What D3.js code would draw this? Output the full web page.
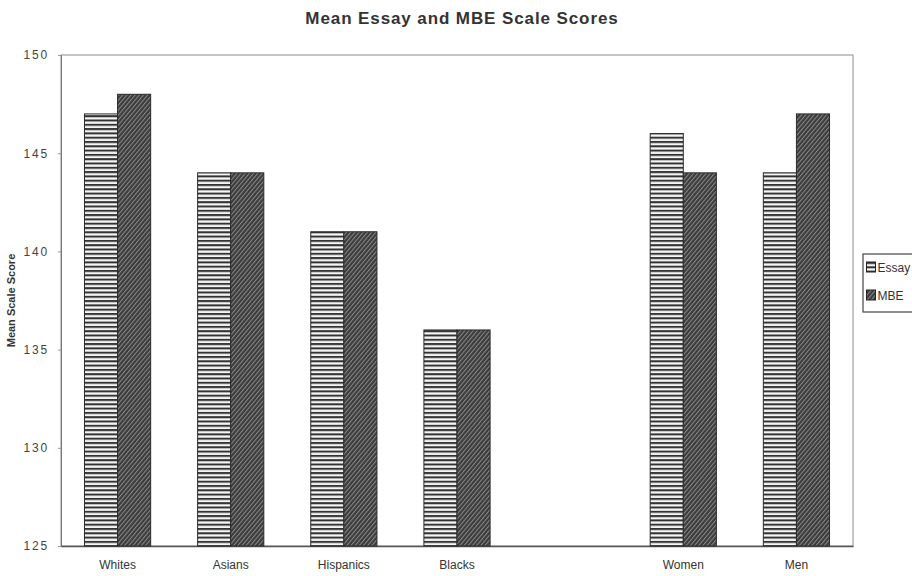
<!DOCTYPE html>
<html>
<head>
<meta charset="utf-8">
<script src="https://cdn.jsdelivr.net/npm/d3@7"></script>
<style>
  body { margin: 0; background: #fff; }
  text { font-family: "Liberation Sans", Arial, sans-serif; }
</style>
</head>
<body>
<div id="chart"></div>
<script>
// chart values
const categories = ["Whites", "Asians", "Hispanics", "Blacks", "Women", "Men"];
const essayScores = [147, 144, 141, 136, 146, 144];
const mbeScores = [148, 144, 141, 136, 144, 147];
const series = ["Essay", "MBE"];
const yTicks = [125, 130, 135, 140, 145, 150];

const W = 912, H = 576;
const margin = { top: 55, right: 59, bottom: 30, left: 61 };
const width = W - margin.left - margin.right;
const height = H - margin.top - margin.bottom;

const svg = d3.select("#chart")
  .append("svg")
  .attr("width", W)
  .attr("height", H);

// fill patterns
const defs = svg.append("defs");
const stripes = defs.append("pattern")
  .attr("id", "stripes")
  .attr("patternUnits", "userSpaceOnUse")
  .attr("width", 8).attr("height", 4.3);
stripes.append("rect").attr("width", 8).attr("height", 4.3).attr("fill", "#f4f4f4");
stripes.append("rect").attr("y", 0).attr("width", 8).attr("height", 2).attr("fill", "#333");

const hatch = defs.append("pattern")
  .attr("id", "hatch")
  .attr("patternUnits", "userSpaceOnUse")
  .attr("width", 3.2).attr("height", 8)
  .attr("patternTransform", "rotate(40)");
hatch.append("rect").attr("width", 3.2).attr("height", 8).attr("fill", "#3c3c3c");
hatch.append("rect").attr("x", 0).attr("width", 1).attr("height", 8).attr("fill", "#8a8a8a");

const fills = { Essay: "url(#stripes)", MBE: "url(#hatch)" };

const g = svg.append("g")
  .attr("transform", `translate(${margin.left},${margin.top})`);

// one empty slot between the race groups and the gender groups
const slots = categories.slice(0, 4).concat(["_gap"], categories.slice(4));

const x = d3.scaleBand().domain(slots).range([0, width]).paddingInner(0.415).paddingOuter(0.2075);
const xs = d3.scaleBand().domain(series).range([0, x.bandwidth()]);
const y = d3.scaleLinear().domain([125, 150]).range([height, 0]);

// plot frame
g.append("rect")
  .attr("width", width).attr("height", height)
  .attr("fill", "none").attr("stroke", "#8c8c8c").attr("stroke-width", 1);

// y axis
const yAxis = g.append("g")
  .call(d3.axisLeft(y).tickValues(yTicks).tickSize(3).tickPadding(9));
yAxis.select(".domain").attr("stroke", "#777");
yAxis.selectAll(".tick line").attr("stroke", "#999");
yAxis.selectAll(".tick text")
  .attr("font-size", 12).attr("fill", "#444").style("letter-spacing", "1.8px");

// x axis
const xAxis = g.append("g")
  .attr("transform", `translate(0,${height})`)
  .call(d3.axisBottom(x).tickSize(0).tickPadding(14).tickFormat(d => d === "_gap" ? "" : d));
xAxis.select(".domain").attr("stroke", "#555").attr("stroke-width", 1.3);
xAxis.selectAll(".tick text").attr("font-size", 12).attr("fill", "#333");

// bars
const rows = categories.map((c, i) => ({ cat: c, Essay: essayScores[i], MBE: mbeScores[i] }));
const groups = g.selectAll(".grp")
  .data(rows)
  .enter().append("g")
  .attr("class", "grp")
  .attr("transform", d => `translate(${x(d.cat)},0)`);

groups.selectAll("rect")
  .data(d => series.map(s => ({ key: s, value: d[s] })))
  .enter().append("rect")
  .attr("x", d => xs(d.key))
  .attr("y", d => y(d.value))
  .attr("width", xs.bandwidth())
  .attr("height", d => height - y(d.value))
  .attr("fill", d => fills[d.key])
  .attr("stroke", "#2a2a2a")
  .attr("stroke-width", 1);

// title
svg.append("text")
  .attr("x", 462).attr("y", 24)
  .attr("text-anchor", "middle")
  .attr("font-size", 17).attr("font-weight", "bold").attr("fill", "#333")
  .style("letter-spacing", "0.9px")
  .text("Mean Essay and MBE Scale Scores");

// y axis title
svg.append("text")
  .attr("transform", `translate(15,${margin.top + height / 2}) rotate(-90)`)
  .attr("text-anchor", "middle")
  .attr("font-size", 11).attr("font-weight", "bold").attr("fill", "#333")
  .text("Mean Scale Score");

// legend (runs off the right edge as in the original)
const legend = svg.append("g").attr("transform", "translate(863,254)");
legend.append("rect")
  .attr("width", 70).attr("height", 58)
  .attr("fill", "#fff").attr("stroke", "#444").attr("stroke-width", 1.2);
series.forEach((s, i) => {
  const row = legend.append("g").attr("transform", `translate(3.5,${8 + i * 28})`);
  row.append("rect")
    .attr("width", 9).attr("height", 10)
    .attr("fill", fills[s]).attr("stroke", "#222");
  row.append("text")
    .attr("x", 11).attr("y", 9.5)
    .attr("font-size", 12).attr("fill", "#333")
    .text(s);
});
</script>
</body>
</html>
